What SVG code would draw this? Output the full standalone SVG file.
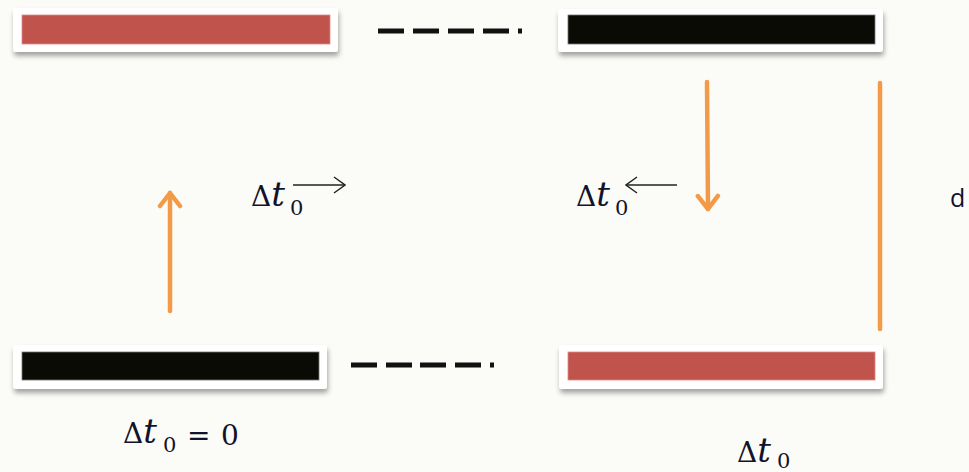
<svg xmlns="http://www.w3.org/2000/svg" width="969" height="472" viewBox="0 0 969 472">
  <defs>
    <filter id="shadow" x="-5%" y="-40%" width="110%" height="200%">
      <feDropShadow dx="1" dy="4" stdDeviation="2.5" flood-color="#000" flood-opacity="0.35"/>
    </filter>
    <marker id="orangeHead" viewBox="-16 -13 20 26" refX="0" refY="0" markerWidth="20" markerHeight="26" orient="auto-start-reverse" markerUnits="userSpaceOnUse">
      <path d="M-13,-10 L0,0 L-13,10" fill="none" stroke="#f39a48" stroke-width="4.5" stroke-linecap="round" stroke-linejoin="round"/>
    </marker>
    <marker id="vecHead" viewBox="0 0 16 18" refX="15" refY="9" markerWidth="16" markerHeight="18" orient="auto-start-reverse" markerUnits="userSpaceOnUse">
      <path d="M4,1 L15,9 L4,17" fill="none" stroke="#222" stroke-width="1.4"/>
    </marker>
  </defs>
  <style>
    .frame { fill: #ffffff; filter: url(#shadow); }
    .red { fill: #c0544c; stroke: #e08a84; stroke-width: 0.8; }
    .dark { fill: #0b0b06; stroke: #777; stroke-width: 0.8; }
    .dash { stroke: #111; stroke-width: 5; fill: none; }
    .orange { stroke: #f39a48; stroke-width: 4.5; fill: none; stroke-linecap: round; }
    .math { font-family: "DejaVu Serif", "Liberation Serif", serif; font-size: 28px; fill: #12122a; }
    .it { font-style: italic; font-size: 34px; }
    .sub { font-family: "DejaVu Serif", "Liberation Serif", serif; font-size: 21px; fill: #12122a; }
    .vec { stroke: #222; stroke-width: 1.4; fill: none; }
  </style>

  <rect width="969" height="472" fill="#fbfcf7"/>

  <!-- top-left plate (red) -->
  <g id="plate-top-left">
    <rect class="frame" x="13" y="8" width="325" height="44" rx="3"/>
    <rect class="red" x="22" y="15" width="308" height="29"/>
  </g>

  <!-- top-right plate (black) -->
  <g id="plate-top-right">
    <rect class="frame" x="558" y="9" width="325" height="43" rx="3"/>
    <rect class="dark" x="568" y="15" width="307" height="29"/>
  </g>

  <!-- bottom-left plate (black) -->
  <g id="plate-bottom-left">
    <rect class="frame" x="13" y="345" width="314" height="44" rx="3"/>
    <rect class="dark" x="22" y="352" width="297" height="28"/>
  </g>

  <!-- bottom-right plate (red) -->
  <g id="plate-bottom-right">
    <rect class="frame" x="559" y="345" width="324" height="44" rx="3"/>
    <rect class="red" x="568" y="352" width="307" height="28"/>
  </g>

  <!-- connectors -->
  <g id="connectors">
    <path class="dash" d="M378,31 H404 M413,31 H439 M448,31 H474 M483,31 H509 M518,31 H522"/>
    <path class="dash" d="M351,365 H377 M386,365 H412 M420,365 H446 M455,365 H481 M490,365 H494"/>
    <line class="orange" x1="170" y1="311" x2="170" y2="193" marker-end="url(#orangeHead)"/>
    <line class="orange" x1="707" y1="82" x2="708" y2="209" marker-end="url(#orangeHead)"/>
    <line class="orange" x1="880" y1="83" x2="880" y2="329"/>
  </g>

  <!-- labels -->
  <g id="label-left">
    <text class="math" x="251" y="206">Δ<tspan class="it">t</tspan></text>
    <text class="sub" x="290" y="215">0</text>
    <line class="vec" x1="293" y1="185" x2="345" y2="185" marker-end="url(#vecHead)"/>
  </g>

  <g id="label-right">
    <text class="math" x="576" y="206">Δ<tspan class="it">t</tspan></text>
    <text class="sub" x="615" y="215">0</text>
    <line class="vec" x1="677" y1="185" x2="626" y2="185" marker-end="url(#vecHead)"/>
  </g>

  <g id="label-d">
    <text x="950" y="207" font-family="Open Sans, DejaVu Sans, sans-serif" font-size="25" fill="#12122a">d</text>
  </g>

  <g id="label-bottom-left">
    <text class="math" x="123" y="443">Δ<tspan class="it">t</tspan></text>
    <text class="sub" x="163" y="452">0</text>
    <text class="math" x="187" y="445">=</text>
    <text class="math" x="221" y="445" font-size="24">0</text>
  </g>

  <g id="label-bottom-right">
    <text class="math" x="737" y="462">Δ<tspan class="it">t</tspan></text>
    <text class="sub" x="777" y="468">0</text>
  </g>
</svg>
